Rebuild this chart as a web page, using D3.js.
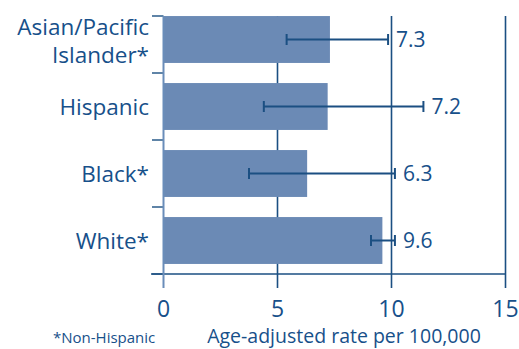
<!DOCTYPE html>
<html>
<head>
<meta charset="utf-8">
<script src="https://cdn.jsdelivr.net/npm/d3@7"></script>
<style>
  html, body { margin: 0; padding: 0; background: #fff; }
  svg { display: block; }
  text { font-family: "Open Sans", "Noto Sans", sans-serif; fill: #17508a; }
</style>
</head>
<body>
<svg id="chart" width="519" height="349"></svg>
<script>
// Age-adjusted rates per 100,000 by race/ethnicity, with confidence intervals
const groups = ["Asian/Pacific Islander*", "Hispanic", "Black*", "White*"];
const groupLines = [["Asian/Pacific", "Islander*"], ["Hispanic"], ["Black*"], ["White*"]];
const rates = [7.3, 7.2, 6.3, 9.6];
const ciLow = [5.4, 4.4, 3.75, 9.1];
const ciHigh = [9.85, 11.4, 10.15, 10.15];
const xTicks = [0, 5, 10, 15];
const xTitle = "Age-adjusted rate per 100,000";
const footnote = "*Non-Hispanic";

const dark = "#1b4f82";
const barFill = "#6b8ab5";
const axisLight = "#6a8dba";

const svg = d3.select("#chart");
const x = d3.scaleLinear().domain([0, 15]).range([163.5, 505.5]);
const y = d3.scaleBand().domain(groups).range([6, 274]).paddingInner(0.3).paddingOuter(0.15);
const plotTop = 16, plotBottom = 274;

// vertical gridlines at 5, 10, 15
svg.append("g").selectAll("line").data(xTicks.filter(d => d > 0)).join("line")
  .attr("x1", d => x(d)).attr("x2", d => x(d))
  .attr("y1", plotTop).attr("y2", plotBottom + 14)
  .attr("stroke", dark).attr("stroke-width", 1.6);

// bars
svg.append("g").selectAll("rect").data(groups).join("rect")
  .attr("x", x(0)).attr("y", d => y(d))
  .attr("width", (d, i) => x(rates[i]) - x(0))
  .attr("height", y.bandwidth())
  .attr("fill", barFill);

// category separator ticks
const sep = [plotTop];
groups.forEach((g, i) => { if (i > 0) sep.push((y(groups[i - 1]) + y.bandwidth() + y(g)) / 2); });
sep.push(plotBottom);
svg.append("g").selectAll("line").data(sep).join("line")
  .attr("x1", 152).attr("x2", x(0))
  .attr("y1", d => d).attr("y2", d => d)
  .attr("stroke", dark).attr("stroke-width", 1.4);

// bottom axis line
svg.append("line").attr("x1", 151).attr("x2", x(15))
  .attr("y1", plotBottom).attr("y2", plotBottom)
  .attr("stroke", dark).attr("stroke-width", 1.6);

// left axis line (zero line)
svg.append("line").attr("x1", x(0)).attr("x2", x(0))
  .attr("y1", plotTop).attr("y2", plotBottom + 14)
  .attr("stroke", axisLight).attr("stroke-width", 2);

// error bars
const eb = svg.append("g").attr("stroke", dark).attr("stroke-width", 2);
groups.forEach((g, i) => {
  const cy = y(g) + y.bandwidth() / 2;
  eb.append("line").attr("x1", x(ciLow[i])).attr("x2", x(ciHigh[i])).attr("y1", cy).attr("y2", cy);
  eb.append("line").attr("x1", x(ciLow[i])).attr("x2", x(ciLow[i])).attr("y1", cy - 5.5).attr("y2", cy + 5.5);
  eb.append("line").attr("x1", x(ciHigh[i])).attr("x2", x(ciHigh[i])).attr("y1", cy - 5.5).attr("y2", cy + 5.5);
});

// value labels
svg.append("g").selectAll("text").data(groups).join("text")
  .attr("x", (d, i) => x(ciHigh[i]) + 8)
  .attr("y", d => y(d) + y.bandwidth() / 2 + 7.5)
  .attr("font-size", 21)
  .text((d, i) => rates[i]);

// category labels
groups.forEach((g, i) => {
  const cy = y(g) + y.bandwidth() / 2;
  const lines = groupLines[i];
  const t = svg.append("text").attr("text-anchor", "end").attr("font-size", 22.5);
  if (lines.length === 1) {
    t.append("tspan").attr("x", 149).attr("y", cy + 8.5).text(lines[0]);
  } else {
    t.append("tspan").attr("x", 149).attr("y", cy - 4.5).text(lines[0]);
    t.append("tspan").attr("x", 149).attr("y", cy + 23.5).text(lines[1]);
  }
});

// x tick labels
svg.append("g").selectAll("text").data(xTicks).join("text")
  .attr("x", d => x(d)).attr("y", 317)
  .attr("text-anchor", "middle").attr("font-size", 23)
  .text(d => d);

// axis title and footnote
svg.append("text").attr("x", 344).attr("y", 343).attr("text-anchor", "middle")
  .attr("font-size", 19.5).text(xTitle);
svg.append("text").attr("x", 53).attr("y", 343).attr("font-size", 15).text(footnote);
</script>
</body>
</html>
